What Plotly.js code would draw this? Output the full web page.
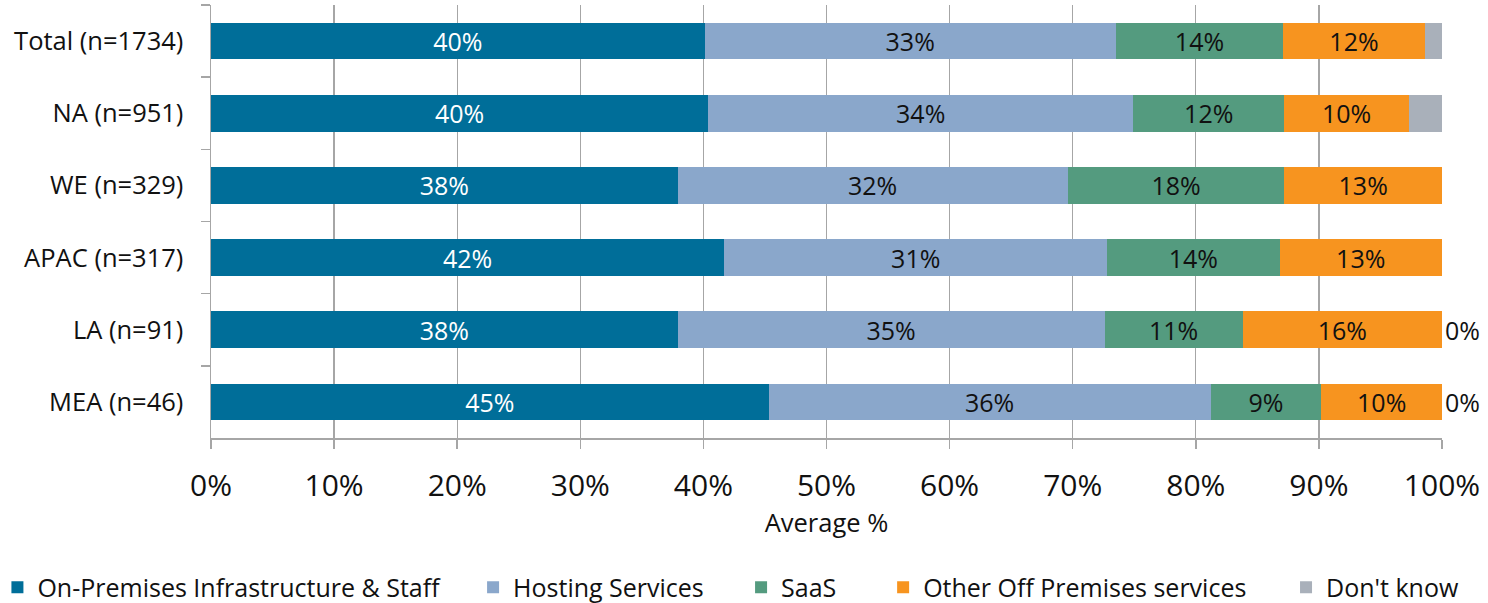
<!DOCTYPE html>
<html>
<head>
<meta charset="utf-8">
<script src="https://cdn.plot.ly/plotly-3.0.1.min.js"></script>
<style>html,body{margin:0;padding:0;background:#fff;}#chart{width:1488px;height:603px;}</style>
</head>
<body>
<div id="chart"></div>
<script>
const categories = ["Total (n=1734)", "NA (n=951)", "WE (n=329)", "APAC (n=317)", "LA (n=91)", "MEA (n=46)"];
const seriesNames = ["On-Premises Infrastructure & Staff", "Hosting Services", "SaaS", "Other Off Premises services", "Don't know"];
const onPrem   = [40.1, 40.4, 37.9, 41.7, 37.9, 45.3];
const hosting  = [33.4, 34.5, 31.7, 31.1, 34.7, 35.9];
const saas     = [13.6, 12.3, 17.6, 14.0, 11.2, 9.0];
const otherOff = [11.5, 10.1, 12.8, 13.2, 16.2, 9.8];
const dontKnow = [1.4, 2.7, 0, 0, 0, 0];
const onPremLabels   = ["40%", "40%", "38%", "42%", "38%", "45%"];
const hostingLabels  = ["33%", "34%", "32%", "31%", "35%", "36%"];
const saasLabels     = ["14%", "12%", "18%", "14%", "11%", "9%"];
const otherLabels    = ["12%", "10%", "13%", "13%", "16%", "10%"];
const dontKnowLabels = ["", "", "", "", "0%", "0%"];
const xTickVals = [0, 10, 20, 30, 40, 50, 60, 70, 80, 90, 100];
const xTickText = ["0%", "10%", "20%", "30%", "40%", "50%", "60%", "70%", "80%", "90%", "100%"];

const colors = ["#006E99", "#8AA7CB", "#549B7F", "#F7941F", "#A9B0BA"];
const textColors = ["#ffffff", "#111111", "#111111", "#111111", "#111111"];
const values = [onPrem, hosting, saas, otherOff, dontKnow];
const labels = [onPremLabels, hostingLabels, saasLabels, otherLabels, dontKnowLabels];
const FONT = "'Open Sans', 'Noto Sans', sans-serif";
const LBL = 25;
const legendIds = ["legend", "legend2", "legend3", "legend4", "legend5"];
const legendX = [-0.1735, 0.2129, 0.4306, 0.546, 0.8733];

const traces = values.map((v, i) => ({
  type: "bar",
  orientation: "h",
  name: seriesNames[i],
  legend: legendIds[i],
  y: categories,
  x: v,
  text: labels[i],
  texttemplate: "%{text}",
  textposition: i === 4 ? "outside" : "inside",
  insidetextanchor: "middle",
  textangle: 0,
  constraintext: "none",
  cliponaxis: false,
  textfont: {family: FONT, size: LBL, color: textColors[i]},
  insidetextfont: {family: FONT, size: LBL, color: textColors[i]},
  outsidetextfont: {family: FONT, size: LBL, color: "#111111"},
  marker: {color: colors[i], line: {width: 0}},
  hoverinfo: "x+y+name"
}));

const layout = {
  width: 1488,
  height: 603,
  barmode: "stack",
  bargap: 0.49,
  margin: {l: 211, r: 46, t: 5, b: 165, autoexpand: false},
  paper_bgcolor: "#ffffff",
  plot_bgcolor: "#ffffff",
  showlegend: true,
  xaxis: {
    range: [0, 100.001],
    tickvals: xTickVals,
    ticktext: xTickText,
    showgrid: true,
    gridcolor: "#A6A6A6",
    gridwidth: 1.3,
    zeroline: false,
    showline: true,
    linecolor: "#A6A6A6",
    linewidth: 1.5,
    ticks: "outside",
    ticklen: 9,
    tickcolor: "#A6A6A6",
    tickwidth: 1.5,
    ticklabelstandoff: 11,
    tickfont: {family: FONT, size: 30, color: "#111111"},
    title: {text: "Average %", font: {family: FONT, size: 25.5, color: "#111111"}, standoff: 10},
    automargin: false,
    fixedrange: true
  },
  yaxis: {
    type: "category",
    categoryorder: "array",
    categoryarray: categories,
    autorange: "reversed",
    tickson: "boundaries",
    ticks: "outside",
    ticklen: 9,
    tickcolor: "#A6A6A6",
    tickwidth: 1.5,
    showgrid: false,
    showline: true,
    linecolor: "#A6A6A6",
    linewidth: 1.5,
    ticklabelstandoff: 21,
    tickfont: {family: FONT, size: 25.5, color: "#111111"},
    automargin: false,
    fixedrange: true
  }
};

legendIds.forEach((id, i) => {
  layout[id] = {
    orientation: "h",
    x: legendX[i], xanchor: "left",
    y: -0.345, yanchor: "middle",
    font: {family: FONT, size: 25, color: "#111111"},
    itemwidth: 30,
    bgcolor: "rgba(0,0,0,0)"
  };
});

Plotly.newPlot("chart", traces, layout, {displayModeBar: false, staticPlot: true});
</script>
</body>
</html>
